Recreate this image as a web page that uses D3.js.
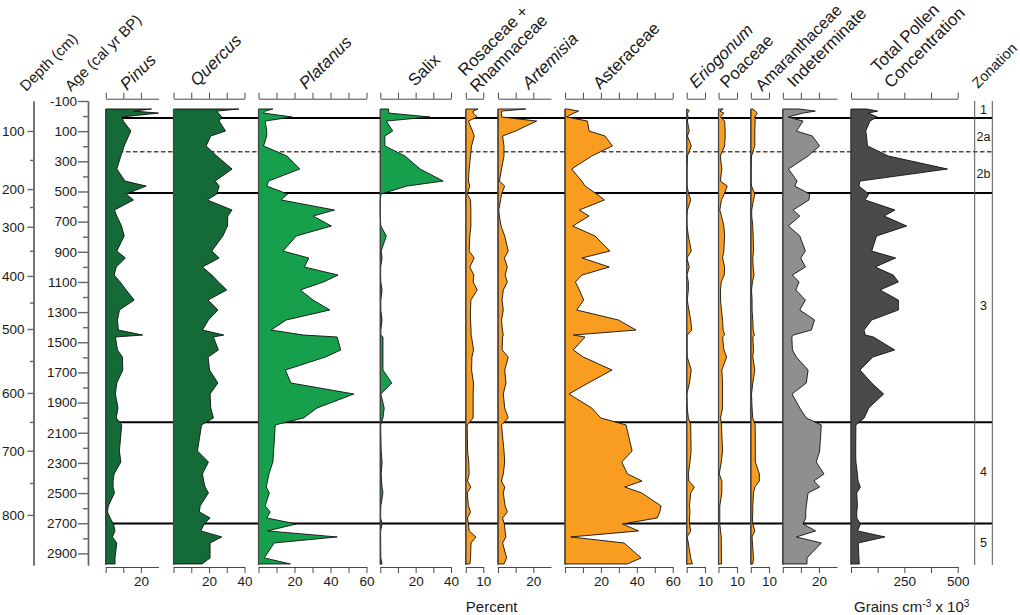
<!DOCTYPE html>
<html>
<head>
<meta charset="utf-8">
<script src="https://cdn.jsdelivr.net/npm/d3@7"></script>
<style>
  html, body { margin: 0; padding: 0; background: #fff; }
  svg { display: block; }
  text { font-family: "Liberation Sans", Arial, sans-serif; fill: #1a1a1a; }
</style>
</head>
<body>
<div id="chart"></div>
<script>
// sample ages (cal yr BP), shared by all the curves
var ages = [-47,-33,-20,6,33,99,132,198,265,351,431,464,517,556,623,663,729,795,895,941,1001,1054,1100,1153,1220,1286,1352,1419,1452,1465,1551,1598,1684,1770,1843,1936,2002,2048,2221,2294,2373,2420,2460,2499,2585,2625,2665,2705,2751,2791,2831,2930,2970];

var pinus = [26,16,30,9.3,10,14.3,13,10.5,8.6,6.3,11,23,11.6,15.8,5,6.3,9,10.5,6.3,11.2,6,4.8,8.2,11.6,16.2,7.8,6.7,7.2,21,5.5,6.7,9.5,9.7,6.3,5.5,7,6,9.1,7.8,8.6,4.8,4.2,4.2,5,1.5,1,2.5,4.4,5.3,3.8,6.3,5.3,5.3];
var quercus = [36.8,24.4,25.3,27.2,25.7,29.3,21,18.4,24.4,33,23.5,25.7,24.4,19,33,30.6,30.4,27.8,21.6,25.7,16.3,21.6,25.3,30,19.5,25,19.7,16.3,28.3,22.5,25.3,19.5,20.3,25,20.6,21,22.5,15.8,13.5,19.7,16.3,17,17.8,19.7,15,14.6,20.6,17.3,15.4,27.2,20.6,20.6,16.1];
var platanus = [8,3.7,2.8,18.6,3.7,4.6,4.6,2.8,15.8,22.9,5.6,4.6,16.2,12.5,42.2,30.3,40.5,21,13.6,27.9,25.5,44.2,36.2,23.2,30.3,39.6,15.4,7,25,43.7,45.7,37.2,14.9,18,53,32.5,25,9.3,8.4,8,5.8,5,4.3,6,3.7,6.5,4.6,21,5,43.7,8.7,3.2,17.7];
var salix = [4.7,4.7,4.7,28,3.4,7,2.6,2.6,14,22.5,35.6,15,0.4,0,0,0,0.3,3.4,0.5,1,0.2,0.2,0.3,1,0.3,0.3,1,0.3,0.3,1.5,1.5,1.5,1.5,6.5,0.3,2.2,1.5,0.2,0.5,1,0.5,0.7,1,1.5,0.3,0.2,0.2,1,0.2,0.2,0.2,0.3,1];
var rosaceae = [7,4.2,4.2,6.5,1.5,3.8,4.8,3.3,2.7,1.9,1.5,2.3,0.8,2.7,2.9,2.9,2.9,2.3,1.9,4.8,2.3,4.6,4.2,6.5,2.9,2.7,2.7,3,3,3.3,4.4,3.5,3.3,4.4,4.2,4.2,4.2,0.8,1,1.7,1.9,1,2.9,0.8,1.5,2.7,1,1.5,1.9,5.8,3,2.7,2.3];
var artemisia = [15.7,2,2,2,21.9,10,2.6,3.4,3.4,2,0.8,3.8,2,1.5,0.4,0.8,1.7,3.8,5.8,3.6,5.3,4,5.3,3,2.3,3,2,2.5,3,2.6,2.3,5.8,3.8,4.5,3,3.8,5.8,2,3.4,3.8,3,1.9,3.8,3,4,5.3,2.6,3.6,4,4.5,2.6,4.9,3.4];
var asteraceae = [1.3,7.6,5,0.9,12.5,13.4,22.3,26.4,14.9,3.7,9.3,11.2,17.7,22,8,13.4,4.3,16.7,25,9.5,24.7,9.5,5.8,8,10.4,6.5,29.7,39.6,4.6,11.2,4.6,10.2,26.2,13,2.2,14.9,19.9,34,37.4,31.6,34.8,42.9,33.3,42.7,53.5,52.8,51.4,32,41,3.2,32.9,42.4,34.8];
var eriogonum = [0.4,1.5,0.4,0.7,0.4,1.4,0.4,2.5,0.4,0.2,0.2,0.2,1.1,2.2,0.4,0.1,0.2,0.9,2.5,0.1,1.4,0.1,0.9,0.9,0.3,1.2,2.2,2.7,0.3,0.2,0.2,0.3,2.5,1.5,0.1,0.3,0.9,2.2,2.4,1.8,0.9,1.2,4.2,2.2,1.5,1.8,1.5,1.5,2.2,0.2,0.9,2.2,3.1];
var poaceae = [2.5,0.7,2.9,1.1,3.3,3.6,3.6,3.3,1,1.8,1,4.7,3.1,1.6,0.7,1.6,2.9,3.3,2.9,2.2,3.3,3.1,1.5,1.1,1.1,1.6,2.2,2.5,3.3,2.2,2.9,4.4,1.8,2.2,2.2,2.2,1.1,1.6,2.2,1.5,0.4,1.8,1.8,1.8,0.7,0.7,0.7,0.7,1.1,1.5,1.5,1.6,1.6];
var amaranthaceae = [1.1,2.5,3.6,2.2,2.4,2.2,2.2,2.2,0.4,0.2,0.2,0.4,2.2,1.5,0.5,0.5,1.1,1.3,1.5,1.1,1.3,1.8,0.9,0.4,0.7,0.7,1.1,1.3,2,1.1,1.5,1.1,2.2,1.1,0.4,0.7,1.1,2.4,2.5,2.5,4.7,4.7,2.2,1.5,1.1,1.1,0.9,1.1,2.2,0.7,0.9,1.5,1.1];
var indeterminate = [9,18,11.2,2.9,11.2,7.5,16.3,20.4,14,3.1,7.9,6.6,14.9,14.5,5.7,9.4,3.1,9.4,12.5,9.9,12.5,5.3,9,7.2,12.5,9.4,17.6,15.8,5.7,5,5.3,7.5,14,13,5.1,9.4,13,21.3,20.4,18.5,22.8,17.2,20.4,14,13,12.7,12.7,11.2,18.2,7.5,21.3,13.4,13.4];
var totalPollen = [73,125,81,123,89,69,73,77,175,452,42,37,84,66,206,155,261,120,97,209,113,198,222,136,222,222,97,61,67,105,205,102,42,97,153,83,62,23,22,23,30,33,44,27,30,27,27,44,31,159,34,37,39];

// age axis
var ageLabelled = [-100,100,300,500,700,900,1100,1300,1500,1700,1900,2100,2300,2500,2700,2900];
var ageMinor = [0,200,400,600,800,1000,1200,1400,1600,1800,2000,2200,2400,2600,2800];

// depth axis: depths and the age each one sits at
var depthLabels = [100,200,300,400,500,600,700,800];
var depthLabelAges = [99,484,734,1060,1412,1836,2219,2645];
var depthMinorAges = [291,603,893,1237,1624,2028,2433];

// zones
var zoneBounds = [12,510,2030,2701];
var zoneDashed = 237;
var zoneNames = ["1","2a","2b","3","4","5"];
var zoneLabelAges = [-40,138,380,1255,2360,2830];

var width = 1020, height = 615;
var yTop = 101, yBottom = 565;

var svg = d3.select("#chart").append("svg")
    .attr("width", width)
    .attr("height", height);

var y = d3.scaleLinear().domain([-100, 2977]).range([yTop, yBottom]);

// one panel per curve: left edge, right edge, domain max, labelled ticks
var panels = [
  {values: pinus, x0: 105.7, x1: 158.5, max: 30, step: 10, labels: [20], fill: "#156b37"},
  {values: quercus, x0: 173.5, x1: 244.5, max: 40, step: 10, labels: [20,40], fill: "#156b37"},
  {values: platanus, x0: 258.5, x1: 366.5, max: 60, step: 10, labels: [20,40,60], fill: "#17a04b"},
  {values: salix, x0: 380.3, x1: 451, max: 40, step: 10, labels: [20,40], fill: "#17a04b"},
  {values: rosaceae, x0: 465.8, x1: 483.3, max: 10, step: 10, labels: [10], fill: "#f99d21"},
  {values: artemisia, x0: 498, x1: 551, max: 30, step: 10, labels: [20], fill: "#f99d21"},
  {values: asteraceae, x0: 565, x1: 672.7, max: 60, step: 10, labels: [20,40,60], fill: "#f99d21"},
  {values: eriogonum, x0: 686.7, x1: 705, max: 10, step: 10, labels: [10], fill: "#f99d21"},
  {values: poaceae, x0: 718.5, x1: 737, max: 10, step: 10, labels: [10], fill: "#f99d21"},
  {values: amaranthaceae, x0: 750.8, x1: 769, max: 10, step: 10, labels: [10], fill: "#f99d21"},
  {values: indeterminate, x0: 782.8, x1: 837, max: 30, step: 10, labels: [20], fill: "#8f8f8f"},
  {values: totalPollen, x0: 851, x1: 957.7, max: 500, step: 125, labels: [250,500], fill: "#4a4a4a"}
];

// zone lines go under the curves
var lineLeft = 105, lineRight = 992;
svg.selectAll(".zone-line")
    .data(zoneBounds)
    .enter().append("line")
    .attr("class", "zone-line")
    .attr("x1", lineLeft).attr("x2", lineRight)
    .attr("y1", function(d) { return y(d); })
    .attr("y2", function(d) { return y(d); })
    .attr("stroke", "#000")
    .attr("stroke-width", 2);

svg.append("line")
    .attr("x1", lineLeft).attr("x2", lineRight)
    .attr("y1", y(zoneDashed)).attr("y2", y(zoneDashed))
    .attr("stroke", "#5a4630")
    .attr("stroke-width", 1.5)
    .attr("stroke-dasharray", "4.5,2.5");

panels.forEach(function(p) {
  var x = d3.scaleLinear().domain([0, p.max]).range([p.x0, p.x1]);

  var area = d3.area()
      .x0(x(0))
      .x1(function(d) { return x(d); })
      .y(function(d, i) { return y(ages[i]); });

  svg.append("path")
      .datum(p.values)
      .attr("d", area)
      .attr("fill", p.fill)
      .attr("stroke", "#111")
      .attr("stroke-width", 0.9)
      .attr("stroke-linejoin", "miter");

  svg.append("line")
      .attr("x1", x(0)).attr("x2", x(0))
      .attr("y1", y(ages[0])).attr("y2", yBottom)
      .attr("stroke", "#444")
      .attr("stroke-width", 1.2);

  var ticks = d3.range(0, p.max + 1, p.step);
  var shown = ticks.filter(function(d) { return d < p.max || p.labels.indexOf(d) >= 0 || p.max === 500; });

  var axTop = d3.axisTop(x).tickValues(shown).tickSize(6).tickSizeOuter(0).tickFormat("");
  svg.append("g")
      .attr("class", "axis")
      .attr("transform", "translate(0,98.7)")
      .call(axTop);

  var axBottom = d3.axisBottom(x).tickValues(shown).tickSize(6).tickSizeOuter(0).tickPadding(3)
      .tickFormat(function(d) { return p.labels.indexOf(d) >= 0 ? d : ""; });
  svg.append("g")
      .attr("class", "axis")
      .attr("transform", "translate(0,567)")
      .call(axBottom);
});

svg.selectAll(".axis text").attr("font-size", 13.5).attr("fill", "#1a1a1a");
svg.selectAll(".axis path, .axis line").attr("stroke", "#333").attr("stroke-width", 0.9);

// age axis
var ageAxis = d3.axisLeft(y).tickValues(ageLabelled).tickSize(10).tickSizeOuter(0).tickPadding(1)
    .tickFormat(function(d) { return String(d); });
svg.append("g").attr("class", "side").attr("transform", "translate(88,0)").call(ageAxis);
svg.append("g").attr("class", "side").attr("transform", "translate(88,0)")
    .call(d3.axisLeft(y).tickValues(ageMinor).tickSize(5).tickSizeOuter(0).tickFormat(""));

// depth axis
var depthAxis = d3.axisLeft(y).tickValues(depthLabelAges).tickSize(6).tickSizeOuter(0).tickPadding(3)
    .tickFormat(function(d, i) { return depthLabels[i]; });
svg.append("g").attr("class", "side").attr("transform", "translate(33.5,0)").call(depthAxis);
svg.append("g").attr("class", "side").attr("transform", "translate(33.5,0)")
    .call(d3.axisLeft(y).tickValues(depthMinorAges).tickSize(3.5).tickSizeOuter(0).tickFormat(""));

svg.selectAll(".side text").attr("font-size", 13.5).attr("fill", "#1a1a1a");
svg.selectAll(".side path, .side line").attr("stroke", "#666").attr("stroke-width", 1.4);

// zonation column
[974.7, 992.3].forEach(function(xp) {
  svg.append("line")
      .attr("x1", xp).attr("x2", xp)
      .attr("y1", yTop).attr("y2", yBottom)
      .attr("stroke", "#555")
      .attr("stroke-width", 1);
});
svg.selectAll(".zone-name")
    .data(zoneNames)
    .enter().append("text")
    .attr("class", "zone-name")
    .attr("x", 983.5)
    .attr("y", function(d, i) { return y(zoneLabelAges[i]); })
    .attr("dy", "0.35em")
    .attr("text-anchor", "middle")
    .attr("font-size", 12.5)
    .text(function(d) { return d; });

// column titles, rotated
var titles = [
  ["Depth (cm)", 26, 92, false, 15],
  ["Age (cal yr BP)", 71, 92, false, 15],
  ["Pinus", 127, 91, true, 17],
  ["Quercus", 197, 87, true, 17],
  ["Platanus", 306, 90, true, 17],
  ["Salix", 415, 87, false, 17],
  ["Rosaceae +", 465, 77, false, 17],
  ["Rhamnaceae", 477, 93, false, 17],
  ["Artemisia", 529, 90, true, 17],
  ["Asteraceae", 600, 90, false, 17],
  ["Eriogonum", 696, 89, true, 17],
  ["Poaceae", 727, 89, false, 17],
  ["Amaranthaceae", 762, 92, false, 16.2],
  ["Indeterminate", 794, 88, false, 17],
  ["Total Pollen", 878, 73, false, 17],
  ["Concentration", 891, 89, false, 17],
  ["Zonation", 978, 89, false, 14.5]
];
svg.selectAll(".title")
    .data(titles)
    .enter().append("text")
    .attr("class", "title")
    .attr("transform", function(d) { return "translate(" + d[1] + "," + d[2] + ") rotate(-45)"; })
    .attr("font-style", function(d) { return d[3] ? "italic" : "normal"; })
    .attr("font-size", function(d) { return d[4]; })
    .text(function(d) { return d[0]; });

svg.append("text")
    .attr("x", 491.7).attr("y", 612)
    .attr("text-anchor", "middle")
    .attr("font-size", 15)
    .text("Percent");

var grains = svg.append("text")
    .attr("x", 854).attr("y", 612)
    .attr("font-size", 15);
grains.append("tspan").text("Grains cm");
grains.append("tspan").attr("dy", -5).attr("font-size", 10).text("-3");
grains.append("tspan").attr("dy", 5).text(" x 10");
grains.append("tspan").attr("dy", -5).attr("font-size", 10).text("3");
</script>
</body>
</html>
